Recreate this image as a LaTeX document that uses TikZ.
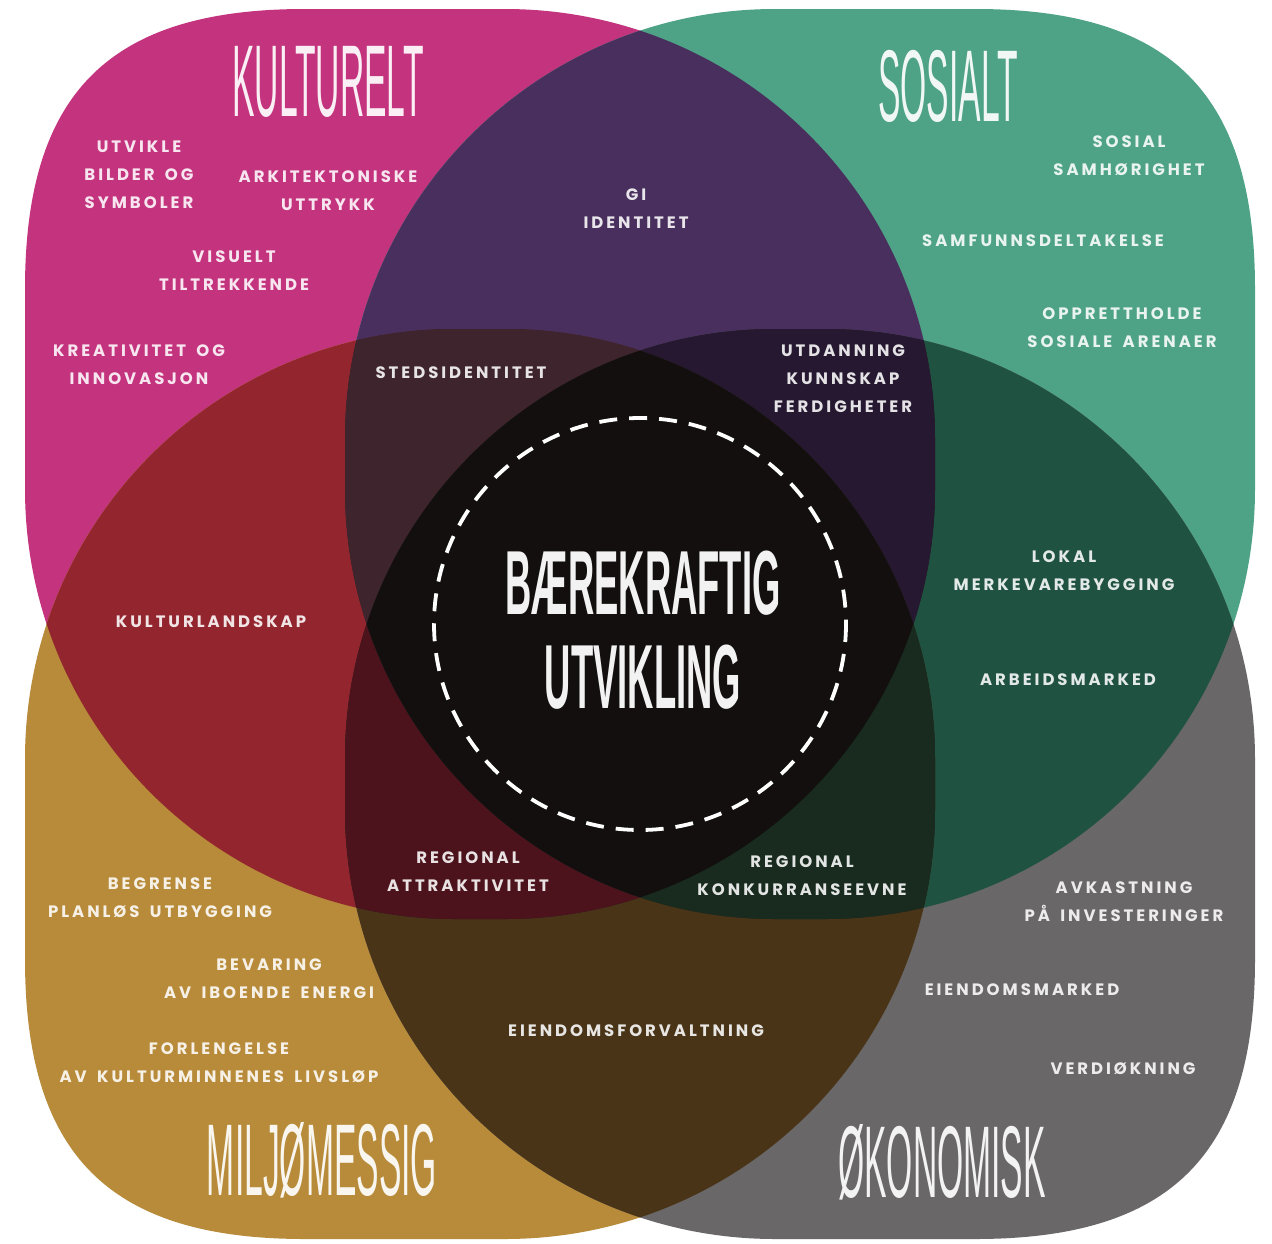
\documentclass[tikz,border=0pt]{standalone}
\usepackage{fontspec}
\newfontfamily\labfont[LetterSpace=18, WordSpace=1.6]{Poppins}
\newfontfamily\ttlfont[FakeStretch=0.33]{Liberation Sans}
\newfontfamily\ctrfont[FakeStretch=0.40]{Liberation Sans}
\definecolor{cM}{RGB}{196,52,126}
\definecolor{cT}{RGB}{78,162,134}
\definecolor{cO}{RGB}{183,139,57}
\definecolor{cG}{RGB}{106,103,104}
\definecolor{cMT}{RGB}{73,47,93}
\definecolor{cMO}{RGB}{147,37,47}
\definecolor{cTG}{RGB}{32,82,66}
\definecolor{cOG}{RGB}{73,52,24}
\definecolor{cMG}{RGB}{40,20,30}
\definecolor{cTO}{RGB}{30,35,30}
\definecolor{cMTO}{RGB}{62,37,45}
\definecolor{cMTG}{RGB}{37,24,48}
\definecolor{cMOG}{RGB}{76,19,29}
\definecolor{cTOG}{RGB}{24,43,30}
\definecolor{cAll}{RGB}{19,15,15}
\tikzset{
  lab/.style={font=\labfont\bfseries\fontsize{16.5}{28}\selectfont, text=white, text opacity=0.88, align=center, inner sep=0pt},
  ttl/.style={font=\ttlfont\fontsize{102}{102}\selectfont, text=white, text opacity=0.92, inner sep=0pt},
  ctr/.style={font=\ctrfont\bfseries\fontsize{91}{94}\selectfont, text=white, text opacity=0.95, inner sep=0pt}
}
\begin{document}
\begin{tikzpicture}[x=1pt,y=-1pt]
\def\pM{(305,9) -- (505,9) arc[start angle=-90,end angle=0,radius=430] -- (935,489) arc[start angle=0,end angle=90,radius=430] -- (455,919) arc[start angle=90,end angle=180,radius=430] -- (25,289) .. controls (25,93) and (109,9) .. (305,9) -- cycle}
\def\pT{(345,439) arc[start angle=180,end angle=270,radius=430] -- (975,9) .. controls (1171,9) and (1255,93) .. (1255,289) -- (1255,489) arc[start angle=0,end angle=90,radius=430] -- (775,919) arc[start angle=90,end angle=180,radius=430] -- cycle}
\def\pO{(25,959) -- (25,759) arc[start angle=180,end angle=270,radius=430] -- (505,329) arc[start angle=270,end angle=360,radius=430] -- (935,809) arc[start angle=0,end angle=90,radius=430] -- (305,1239) .. controls (109,1239) and (25,1155) .. (25,959) -- cycle}
\def\pG{(345,759) arc[start angle=180,end angle=270,radius=430] -- (825,329) arc[start angle=270,end angle=360,radius=430] -- (1255,959) .. controls (1255,1155) and (1171,1239) .. (975,1239) -- (775,1239) arc[start angle=90,end angle=180,radius=430] -- cycle}
\useasboundingbox (0,0) rectangle (1272,1243);
\fill[white] (0,0) rectangle (1272,1243);
% single shapes
\fill[cM] \pM;
\fill[cT] \pT;
\fill[cO] \pO;
\fill[cG] \pG;
% pairs
\begin{scope}\clip \pM; \fill[cMT] \pT; \end{scope}
\begin{scope}\clip \pM; \fill[cMO] \pO; \end{scope}
\begin{scope}\clip \pT; \fill[cTG] \pG; \end{scope}
\begin{scope}\clip \pO; \fill[cOG] \pG; \end{scope}
\begin{scope}\clip \pM; \fill[cMG] \pG; \end{scope}
\begin{scope}\clip \pT; \fill[cTO] \pO; \end{scope}
% triples
\begin{scope}\clip \pM; \clip \pT; \fill[cMTO] \pO; \end{scope}
\begin{scope}\clip \pM; \clip \pT; \fill[cMTG] \pG; \end{scope}
\begin{scope}\clip \pM; \clip \pO; \fill[cMOG] \pG; \end{scope}
\begin{scope}\clip \pT; \clip \pO; \fill[cTOG] \pG; \end{scope}
% all four
\begin{scope}\clip \pM; \clip \pT; \clip \pO; \fill[cAll] \pG; \end{scope}
% dashed ring
\draw[white, line width=3.8pt, dash pattern=on 18pt off 12pt] (640,624) circle[radius=206];
% titles
\node[ttl] (tK) at (328,82) {KULTURELT};
\node[ttl] (tS) at (948,86) {SOSIALT};
\node[ttl] (tM) at (322,1160) {MILJØMESSIG};
\node[ttl] (tO) at (942,1162) {ØKONOMISK};
\node[ctr, align=center] (tC) at (643,630) {BÆREKRAFTIG\\UTVIKLING};
% labels
\node[lab] (l1) at (139,174.5) {UTVIKLE\\BILDER OG\\SYMBOLER};
\node[lab] (l2) at (328,190.5) {ARKITEKTONISKE\\UTTRYKK};
\node[lab] (l3) at (234,271) {VISUELT\\TILTREKKENDE};
\node[lab] (l4) at (139,364.5) {KREATIVITET OG\\INNOVASJON};
\node[lab] (l5) at (636,208.5) {GI\\IDENTITET};
\node[lab] (l6) at (1129,156) {SOSIAL\\SAMHØRIGHET};
\node[lab] (l7) at (1043,241) {SAMFUNNSDELTAKELSE};
\node[lab] (l8) at (1122,328) {OPPRETTHOLDE\\SOSIALE ARENAER};
\node[lab] (l9) at (461,373) {STEDSIDENTITET};
\node[lab] (l10) at (843,379) {UTDANNING\\KUNNSKAP\\FERDIGHETER};
\node[lab] (l11) at (211,622) {KULTURLANDSKAP};
\node[lab] (l12) at (1064,571) {LOKAL\\MERKEVAREBYGGING};
\node[lab] (l13) at (1068,680) {ARBEIDSMARKED};
\node[lab] (l14) at (468,872) {REGIONAL\\ATTRAKTIVITET};
\node[lab] (l15) at (802,876) {REGIONAL\\KONKURRANSEEVNE};
\node[lab] (l16) at (160,898) {BEGRENSE\\PLANLØS UTBYGGING};
\node[lab] (l17) at (269,979) {BEVARING\\AV IBOENDE ENERGI};
\node[lab] (l18) at (219,1063) {FORLENGELSE\\AV KULTURMINNENES LIVSLØP};
\node[lab] (l19) at (636,1031) {EIENDOMSFORVALTNING};
\node[lab] (l20) at (1124,902) {AVKASTNING\\PÅ INVESTERINGER};
\node[lab] (l21) at (1022,990) {EIENDOMSMARKED};
\node[lab] (l22) at (1123,1069) {VERDIØKNING};
\end{tikzpicture}
\end{document}
